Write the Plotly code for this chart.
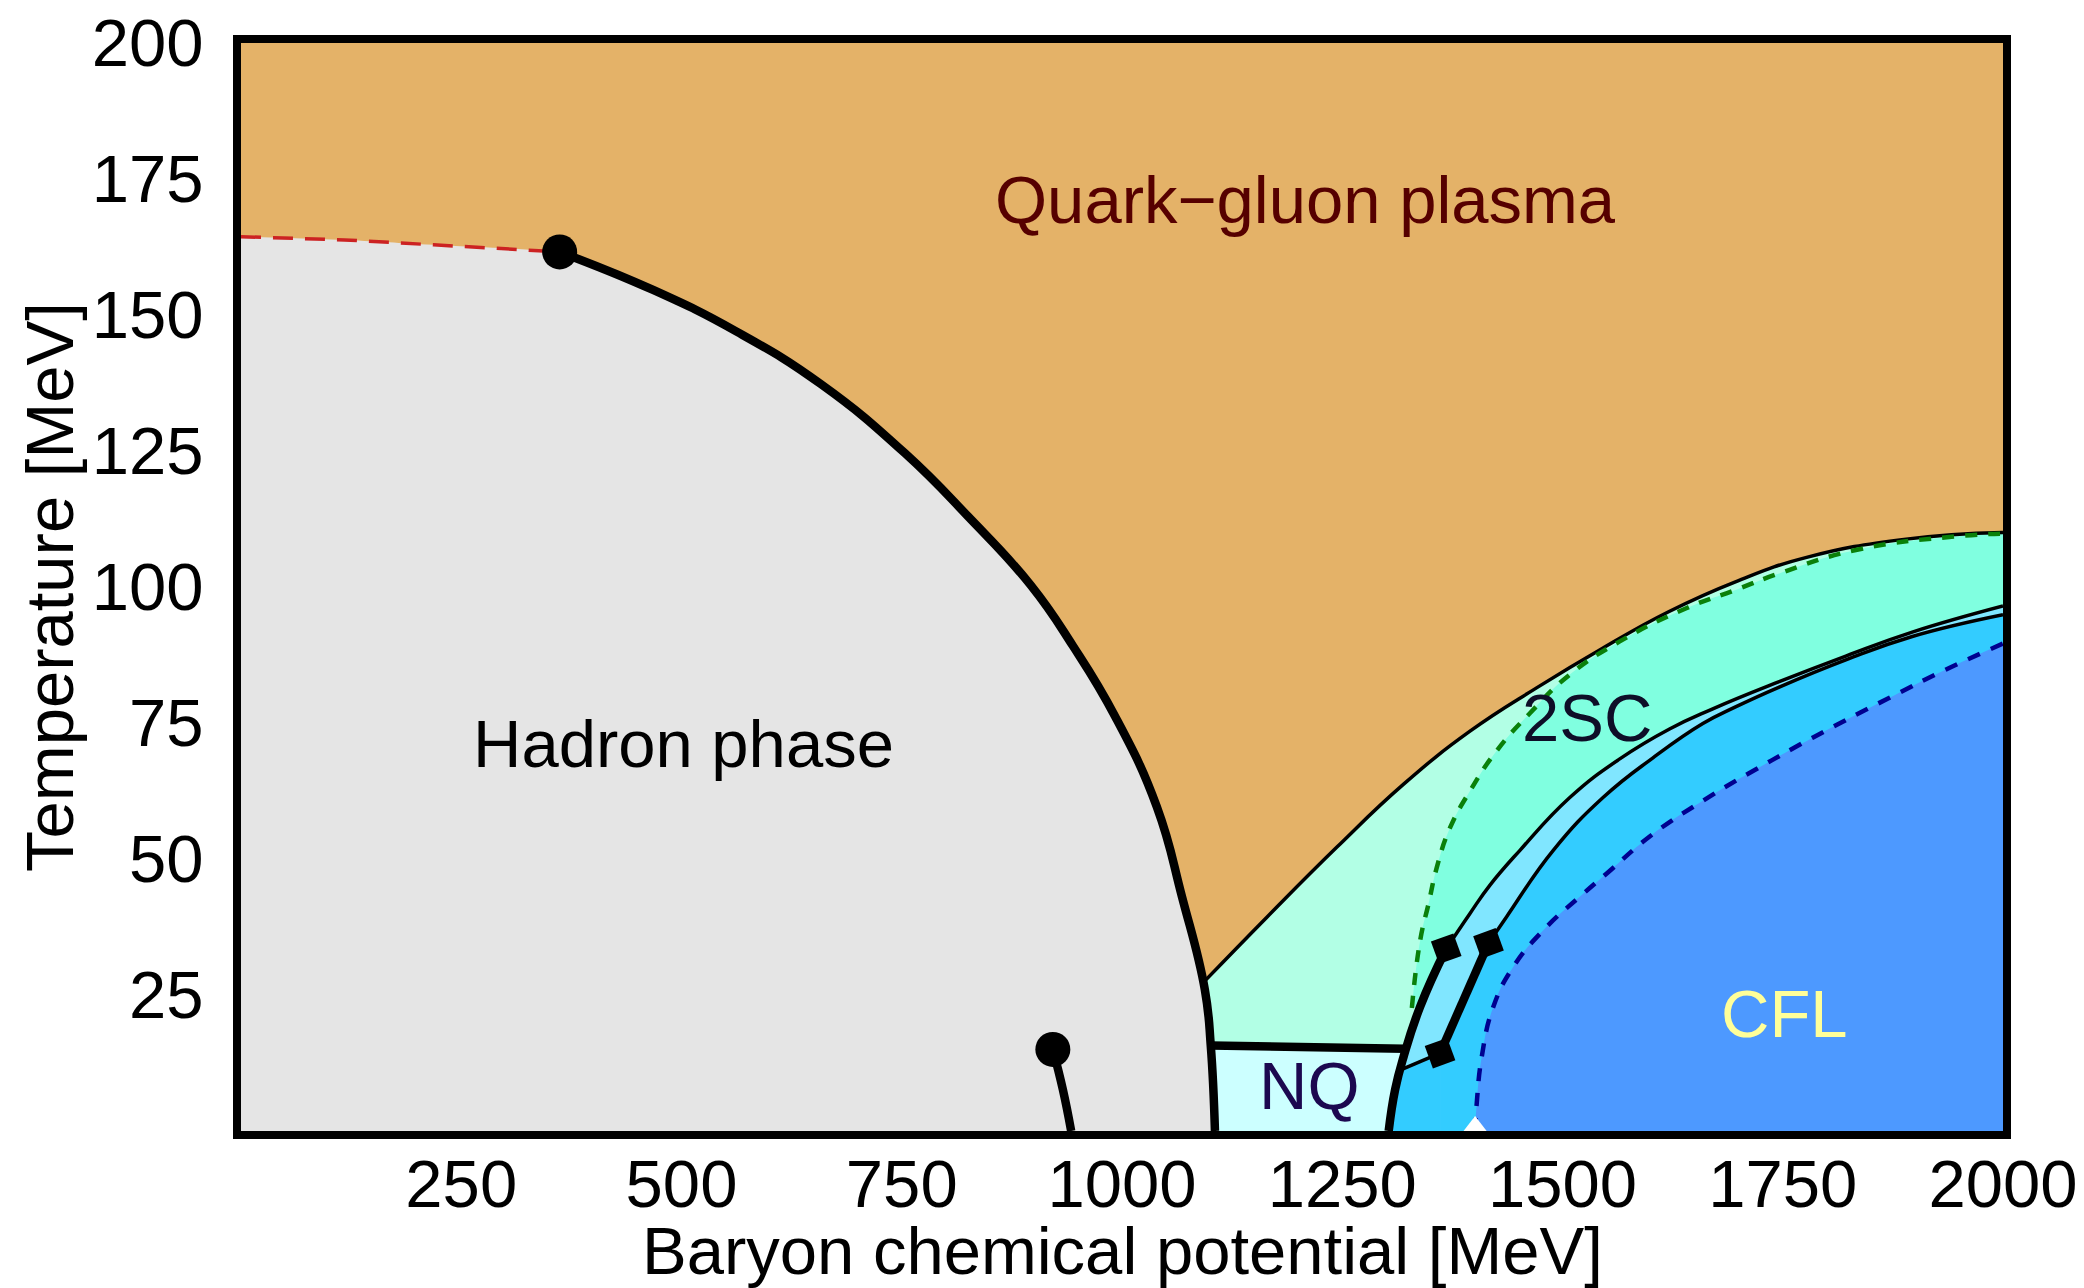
"""
QCD phase diagram: temperature vs baryon chemical potential
"""
import plotly.graph_objects as go

# ---- data (MeV) ----
crossover_mu = [0, 117.5, 218.5, 327, 361.7]
crossover_T = [164.4, 163.8, 162.9, 162.0, 161.6]

hadron_mu = [361.7, 467.8, 563.1, 658.3, 753.6, 825.1, 896.6, 944.2, 991.9,
             1039.5, 1068.2, 1094, 1100.8, 1105.5]
hadron_T = [161.6, 154.6, 146.9, 137.3, 124.6, 113.0, 100.3, 89.2, 76.3,
            59.6, 43.0, 26.0, 15.6, 0]

liquid_gas_mu = [921.5, 932.9, 942.3]
liquid_gas_T = [15.0, 7.6, 0]

outer_mu = [1093.5, 1165, 1244, 1320, 1395, 1471, 1546, 1621, 1697, 1776,
            1890, 2000]
outer_T = [27.5, 39.4, 52.2, 63.8, 73.5, 81.5, 88.8, 95.5, 101.0, 105.4,
           108.8, 110.0]

nq_top_mu = [1101, 1321]
nq_top_T = [15.7, 15.1]

line1_mu = [1302.7, 1310, 1319.7, 1338.5, 1368, 1395, 1417.7, 1451.7, 1508.3,
            1565, 1621.5, 1670.6, 1746, 1821.6, 1897, 2000]
line1_T = [0, 7.6, 13.7, 22.9, 33.5, 40.0, 45.2, 51.6, 61.3, 68.4, 73.9,
           77.6, 82.6, 87.3, 91.7, 96.5]

connector_mu = [1317, 1361]
connector_T = [11.3, 14.3]

line2_mu = [1361, 1416, 1436.6, 1489.5, 1546, 1602.7, 1659.3, 1697, 1746,
            1821.6, 1897, 2000]
line2_T = [14.3, 34.5, 39.4, 51.6, 61.3, 68.6, 74.9, 78.0, 81.6, 86.6, 90.9,
           94.9]

green_mu = [1329, 1338.5, 1348, 1357.4, 1372.5, 1395, 1425.3, 1463, 1508.3,
            1565, 1640.5, 1697, 1746, 1833, 1946, 2000]
green_T = [22.6, 35.1, 41.8, 48.5, 55.8, 62.5, 69.9, 76.8, 83.9, 90.0, 96.1,
           99.5, 102.5, 106.8, 109.3, 109.8]

cfl_mu = [1400.8, 1402.7, 1408.4, 1421.6, 1444.2, 1478.2, 1523.4, 1549.9,
          1602.7, 1659.3, 1697, 1719.7, 1783.9, 1870.6, 1934.8, 2000]
cfl_T = [0, 5.2, 13.7, 22.9, 30.2, 36.9, 43.6, 47.3, 54.6, 60.7, 64.4, 66.5,
         72.3, 79.6, 84.8, 89.6]

dot_mu = [361.7, 921.5]
dot_T = [161.6, 15.0]
diamond_mu = [1368, 1361, 1416]
diamond_T = [33.5, 14.3, 34.5]
triangle_mu = [1400.8]
triangle_T = [0]

labels = ["Quark\u2212gluon plasma", "Hadron phase", "2SC", "NQ", "CFL"]
label_mu = [1208, 502, 1528, 1213, 1752]
label_T = [171.2, 71.3, 76.1, 8.3, 21.6]
label_colors = ["#560000", "#000000", "#0e0e28", "#1c0850", "#ffff99"]

x_title = "Baryon chemical potential [MeV]"
y_title = "Temperature [MeV]"

x_ticks = [250, 500, 750, 1000, 1250, 1500, 1750, 2000]
x_tick_labels = ["250", "500", "750", "1000", "1250", "1500", "1750", "2000"]
y_ticks = [25, 50, 75, 100, 125, 150, 175, 200]
y_tick_labels = ["25", "50", "75", "100", "125", "150", "175", "200"]

# ---- colours ----
QGP = "#e4b268"
HADRON = "#e5e5e5"
MINT = "#b2ffe5"
AQUA = "#80ffe0"
NQ = "#ccffff"
LIGHTBLUE = "#80e6ff"
SKY = "#33ccff"
CFL = "#4d99ff"

THICK = 8.5
THIN = 3.5
SMOOTH = 1.3
FONT = "Liberation Sans, Arial, sans-serif"
FS = 67

fig = go.Figure()


def add_fill(x, y, color, fill="tozeroy", shape="spline"):
    line = {"width": 0, "shape": shape, "color": color}
    if shape == "spline":
        line["smoothing"] = SMOOTH
    fig.add_trace(go.Scatter(x=x, y=y, mode="lines", fill=fill,
                             fillcolor=color, line=line,
                             hoverinfo="skip", showlegend=False))


def add_line(x, y, width, color="black", dash="solid", shape="spline"):
    line = {"width": width, "color": color, "dash": dash, "shape": shape}
    if shape == "spline":
        line["smoothing"] = SMOOTH
    fig.add_trace(go.Scatter(x=x, y=y, mode="lines", line=line,
                             hoverinfo="skip", showlegend=False))


# filled regions, painted bottom to top
add_fill(outer_mu, outer_T, MINT)
add_fill(crossover_mu + hadron_mu[1:], crossover_T + hadron_T[1:], HADRON)
add_fill([nq_top_mu[0], nq_top_mu[0], nq_top_mu[1], line1_mu[0]],
         [0, nq_top_T[0], nq_top_T[1], 0], NQ, fill="toself", shape="linear")
# 2SC region: between the green dashed line and line 1
fig.add_trace(go.Scatter(x=line1_mu[3:], y=line1_T[3:], mode="lines",
                         line={"width": 0, "shape": "spline",
                               "smoothing": SMOOTH},
                         hoverinfo="skip", showlegend=False))
add_fill(green_mu, green_T, AQUA, fill="tonexty")
add_fill(line1_mu, line1_T, LIGHTBLUE)
add_fill(line1_mu[:2] + connector_mu + [connector_mu[1]],
         line1_T[:2] + connector_T + [0], SKY, fill="toself",
         shape="linear")
add_fill(line2_mu, line2_T, SKY)
add_fill(cfl_mu, cfl_T, CFL)

# boundaries
add_line(crossover_mu, crossover_T, 3.5, color="#cc2222", dash="20px,12px",
         shape="linear")
add_line(hadron_mu, hadron_T, THICK)
add_line(liquid_gas_mu, liquid_gas_T, THICK)
add_line(outer_mu, outer_T, THIN)
add_line(nq_top_mu, nq_top_T, THICK, shape="linear")
add_line(line1_mu[:5], line1_T[:5], THICK)
add_line(line1_mu[4:], line1_T[4:], THIN)
add_line(connector_mu, connector_T, THIN, shape="linear")
add_line(line2_mu[:2], line2_T[:2], THICK, shape="linear")
add_line(line2_mu[1:], line2_T[1:], THIN)
add_line(green_mu, green_T, 4.5, color="#0a800a", dash="12px,11px")
add_line(cfl_mu, cfl_T, 4.5, color="#000090", dash="13px,12px")

# points
fig.add_trace(go.Scatter(x=dot_mu, y=dot_T, mode="markers",
                         marker={"size": 35, "color": "black"},
                         hoverinfo="skip", showlegend=False))
fig.add_trace(go.Scatter(x=diamond_mu, y=diamond_T, mode="markers",
                         marker={"size": 26, "color": "black",
                                 "symbol": "diamond", "angle": 25},
                         hoverinfo="skip", showlegend=False))
fig.add_trace(go.Scatter(x=triangle_mu, y=triangle_T, mode="markers",
                         marker={"size": 30, "color": "white",
                                 "symbol": "triangle-up",
                                 "line": {"width": 0}},
                         hoverinfo="skip", showlegend=False))

for text, mu, t, col in zip(labels, label_mu, label_T, label_colors):
    fig.add_annotation(x=mu, y=t, text=text, showarrow=False,
                       font={"size": FS, "color": col, "family": FONT},
                       xanchor="center", yanchor="middle")

# axis titles placed as paper annotations
fig.add_annotation(x=0.5, y=-0.110, xref="paper", yref="paper",
                   text=x_title, showarrow=False,
                   font={"size": FS, "color": "black", "family": FONT},
                   xanchor="center", yanchor="middle")
fig.add_annotation(x=-0.109, y=0.5, xref="paper", yref="paper",
                   text=y_title, showarrow=False, textangle=-90,
                   font={"size": FS, "color": "black", "family": FONT},
                   xanchor="center", yanchor="middle")

fig.update_layout(
    width=2084, height=1288,
    margin={"l": 233, "r": 89, "t": 35, "b": 165},
    plot_bgcolor=QGP, paper_bgcolor="white",
    font={"family": FONT, "size": FS, "color": "black"},
    hovermode=False,
)
fig.update_xaxes(range=[0, 2000], tickvals=x_ticks, ticktext=x_tick_labels,
                 showgrid=False, zeroline=False, showline=True, mirror=True,
                 linewidth=8, linecolor="black", ticks="",
                 ticklabelstandoff=-12, ticklabeloverflow="allow",
                 automargin=False)
fig.update_yaxes(range=[0, 200], tickvals=y_ticks, ticktext=y_tick_labels,
                 showgrid=False, zeroline=False, showline=True, mirror=True,
                 linewidth=8, linecolor="black", ticks="",
                 ticklabelstandoff=16, ticklabeloverflow="allow",
                 automargin=False)

fig.write_html("out.html")
